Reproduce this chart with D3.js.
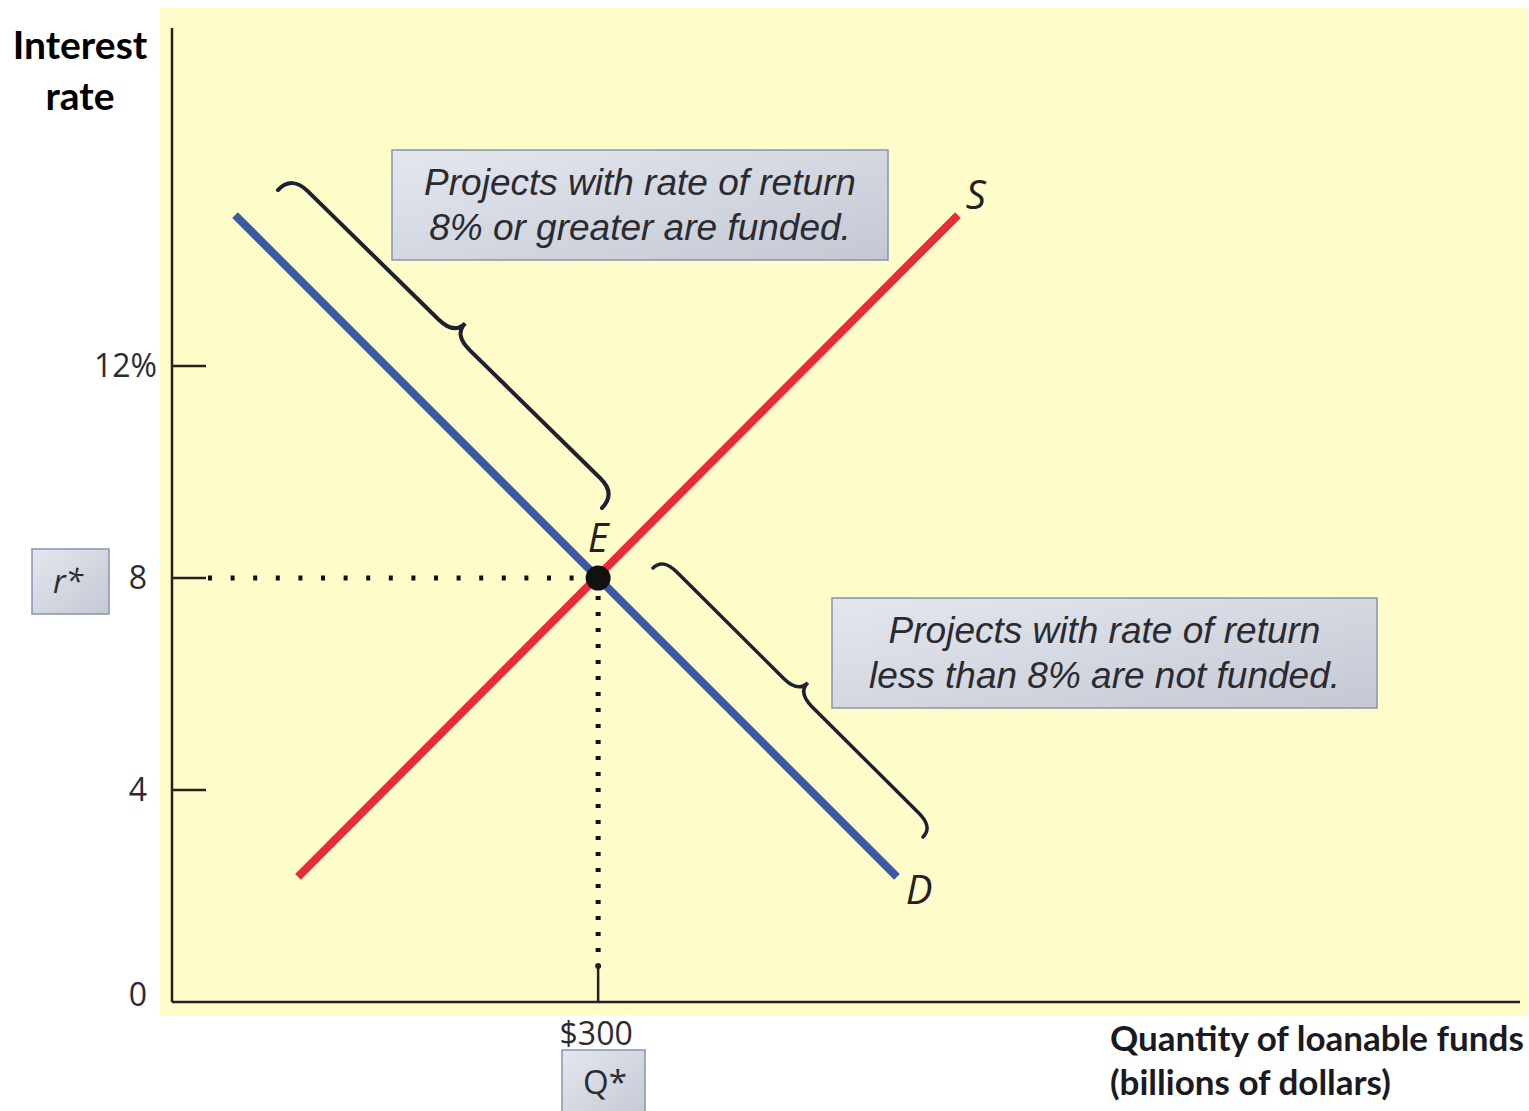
<!DOCTYPE html>
<html>
<head>
<meta charset="utf-8">
<style>
  body { margin: 0; background: #fff; }
  svg { display: block; }
</style>
</head>
<body>
<svg width="1529" height="1111"></svg>
<script src="https://d3js.org/d3.v7.min.js"></script>
<script>

// data
var rateTicks = [0, 4, 8, 12],
    rateLabels = ["0", "4", "8", "12%"],
    supply = [{q: 88.7, r: 2.36}, {q: 553.3, r: 14.85}],
    demand = [{q: 44.4, r: 14.85}, {q: 510.4, r: 2.36}],
    equilibrium = {q: 300, r: 8, qLabel: "$300"};

var svg = d3.select("svg"),
    width = +svg.attr("width"),
    height = +svg.attr("height");

var x = d3.scaleLinear().domain([0, 949]).range([172, 1520]),
    y = d3.scaleLinear().domain([0, 18.38]).range([1002, 28]);

// plot background
svg.append("rect")
    .attr("x", 160).attr("y", 8)
    .attr("width", 1367).attr("height", 1007)
    .attr("fill", "#fefdc9");

var defs = svg.append("defs");
var grad = defs.append("linearGradient")
    .attr("id", "boxfill")
    .attr("x1", "0%").attr("y1", "0%").attr("x2", "100%").attr("y2", "100%");
grad.append("stop").attr("offset", "0%").attr("stop-color", "#e4e7ee");
grad.append("stop").attr("offset", "100%").attr("stop-color", "#c3c8d3");

// axes
svg.append("line")
    .attr("x1", x(0)).attr("x2", x(0))
    .attr("y1", y.range()[1]).attr("y2", y(0))
    .attr("stroke", "#222").attr("stroke-width", 2.5);
svg.append("line")
    .attr("x1", x(0)).attr("x2", x.range()[1])
    .attr("y1", y(0)).attr("y2", y(0))
    .attr("stroke", "#222").attr("stroke-width", 2.5);

// y ticks (drawn inward)
var yt = svg.append("g");
yt.selectAll("line")
    .data(rateTicks.filter(function(d) { return d > 0; }))
  .enter().append("line")
    .attr("x1", x(0)).attr("x2", x(0) + 34)
    .attr("y1", function(d) { return y(d); })
    .attr("y2", function(d) { return y(d); })
    .attr("stroke", "#222").attr("stroke-width", 2.5);

yt.selectAll("text")
    .data(rateTicks)
  .enter().append("text")
    .attr("x", function(d, i) { return rateLabels[i].length > 2 ? 157 : 147; })
    .attr("y", function(d) { return d === 0 ? y(d) - 7 : y(d); })
    .attr("dy", "0.35em")
    .attr("text-anchor", "end")
    .attr("font-family", "Open Sans, sans-serif")
    .attr("font-size", 32)
    .attr("fill", "#2b2b35")
    .text(function(d, i) { return rateLabels[i]; });

// x tick at equilibrium
svg.append("line")
    .attr("x1", x(equilibrium.q)).attr("x2", x(equilibrium.q))
    .attr("y1", y(0)).attr("y2", y(0) - 36)
    .attr("stroke", "#222").attr("stroke-width", 2.5);
svg.append("circle")
    .attr("cx", x(equilibrium.q)).attr("cy", y(0) - 36)
    .attr("r", 3).attr("fill", "#222");
svg.append("text")
    .attr("x", x(equilibrium.q) - 2).attr("y", 1045)
    .attr("text-anchor", "middle")
    .attr("font-family", "Open Sans, sans-serif")
    .attr("font-size", 32)
    .attr("fill", "#2b2b35")
    .text(equilibrium.qLabel);

// dotted guides
svg.append("line")
    .attr("x1", x(0) + 36).attr("x2", x(equilibrium.q) - 12)
    .attr("y1", y(equilibrium.r)).attr("y2", y(equilibrium.r))
    .attr("stroke", "#111").attr("stroke-width", 5)
    .attr("stroke-dasharray", "4 18.6");
svg.append("line")
    .attr("x1", x(equilibrium.q)).attr("x2", x(equilibrium.q))
    .attr("y1", y(equilibrium.r) + 18).attr("y2", y(0) - 40)
    .attr("stroke", "#111").attr("stroke-width", 5)
    .attr("stroke-dasharray", "4 12");

// curves
var line = d3.line()
    .x(function(d) { return x(d.q); })
    .y(function(d) { return y(d.r); });

svg.append("path")
    .datum(supply)
    .attr("d", line)
    .attr("fill", "none")
    .attr("stroke", "#ea2a3b")
    .attr("stroke-width", 8);

svg.append("path")
    .datum(demand)
    .attr("d", line)
    .attr("fill", "none")
    .attr("stroke", "#3a5aa8")
    .attr("stroke-width", 8);

svg.append("circle")
    .attr("cx", x(equilibrium.q)).attr("cy", y(equilibrium.r))
    .attr("r", 12.5).attr("fill", "#111");

// curve labels
function curveLabel(px, py, t) {
  svg.append("text")
      .attr("x", px).attr("y", py)
      .attr("text-anchor", "middle")
      .attr("font-family", "Open Sans, sans-serif")
      .attr("font-style", "italic")
      .attr("font-size", 40)
      .attr("fill", "#222")
      .text(t);
}
curveLabel(x(supply[1].q) + 18, y(supply[1].r) - 6, "S");
curveLabel(x(demand[1].q) + 22, y(demand[1].r) + 27, "D");
curveLabel(x(equilibrium.q), y(equilibrium.r) - 26, "E");

// curly braces
function brace(ax, ay, bx, by, w, h, r) {
  var L = Math.hypot(bx - ax, by - ay),
      ex = (bx - ax) / L, ey = (by - ay) / L,
      nx = ey, ny = -ex;
  function p(u, v) { return (ax + u * ex + v * nx).toFixed(1) + "," + (ay + u * ey + v * ny).toFixed(1); }
  var m = L / 2;
  return "M" + p(0, 0) +
    "Q" + p(0, h) + " " + p(r, h) +
    "L" + p(m - r, h) +
    "Q" + p(m, h) + " " + p(m, w) +
    "Q" + p(m, h) + " " + p(m + r, h) +
    "L" + p(L - r, h) +
    "Q" + p(L, h) + " " + p(L, 0);
}
svg.append("path")
    .attr("d", brace(278, 190, 602, 508, 36, 20, 22))
    .attr("fill", "none").attr("stroke", "#1e2230")
    .attr("stroke-width", 4).attr("stroke-linecap", "round");
svg.append("path")
    .attr("d", brace(653, 568, 923, 837, 28, 14, 20))
    .attr("fill", "none").attr("stroke", "#1e2230")
    .attr("stroke-width", 3.5).attr("stroke-linecap", "round");

// annotation boxes
function note(bx, by, bw, bh, lines) {
  svg.append("rect")
      .attr("x", bx).attr("y", by)
      .attr("width", bw).attr("height", bh)
      .attr("fill", "url(#boxfill)")
      .attr("stroke", "#8594b0").attr("stroke-width", 1.5);
  svg.append("text")
      .attr("font-family", "Liberation Sans, Arial, sans-serif")
      .attr("font-style", "italic")
      .attr("font-size", 37)
      .attr("fill", "#2a2a30")
      .attr("text-anchor", "middle")
    .selectAll("tspan")
    .data(lines)
    .enter().append("tspan")
      .attr("x", bx + bw / 2)
      .attr("y", function(d, i) { return by + 45 + i * 45; })
      .text(function(d) { return d; });
}
note(392, 150, 496, 110, ["Projects with rate of return", "8% or greater are funded."]);
note(832, 598, 545, 110, ["Projects with rate of return", "less than 8% are not funded."]);

// r* and Q* tags
svg.append("rect")
    .attr("x", 32).attr("y", 549).attr("width", 77).attr("height", 65)
    .attr("fill", "url(#boxfill)").attr("stroke", "#8594b0").attr("stroke-width", 1.5);
svg.append("text")
    .attr("x", 68).attr("y", 593)
    .attr("text-anchor", "middle")
    .attr("font-family", "Open Sans, sans-serif")
    .attr("font-style", "italic")
    .attr("font-size", 32)
    .attr("fill", "#2b2b35")
    .text("r*");
svg.append("rect")
    .attr("x", 562).attr("y", 1050).attr("width", 83).attr("height", 70)
    .attr("fill", "url(#boxfill)").attr("stroke", "#8594b0").attr("stroke-width", 1.5);
svg.append("text")
    .attr("x", 605).attr("y", 1094)
    .attr("text-anchor", "middle")
    .attr("font-family", "Open Sans, sans-serif")
    .attr("font-size", 33)
    .attr("fill", "#2b2b35")
    .text("Q*");

// axis titles
svg.append("text")
    .attr("font-family", "Lato, Open Sans, sans-serif")
    .attr("font-weight", "bold")
    .attr("font-size", 39)
    .attr("text-anchor", "middle")
    .attr("fill", "#000")
  .selectAll("tspan")
  .data(["Interest", "rate"])
  .enter().append("tspan")
    .attr("x", 80)
    .attr("y", function(d, i) { return 59 + i * 51; })
    .text(function(d) { return d; });

svg.append("text")
    .attr("font-family", "Lato, Open Sans, sans-serif")
    .attr("font-weight", "bold")
    .attr("font-size", 35)
    .attr("fill", "#1a1a22")
  .selectAll("tspan")
  .data(["Quantity of loanable funds", "(billions of dollars)"])
  .enter().append("tspan")
    .attr("x", 1110)
    .attr("y", function(d, i) { return 1051 + i * 44; })
    .text(function(d) { return d; });

</script>
</body>
</html>
